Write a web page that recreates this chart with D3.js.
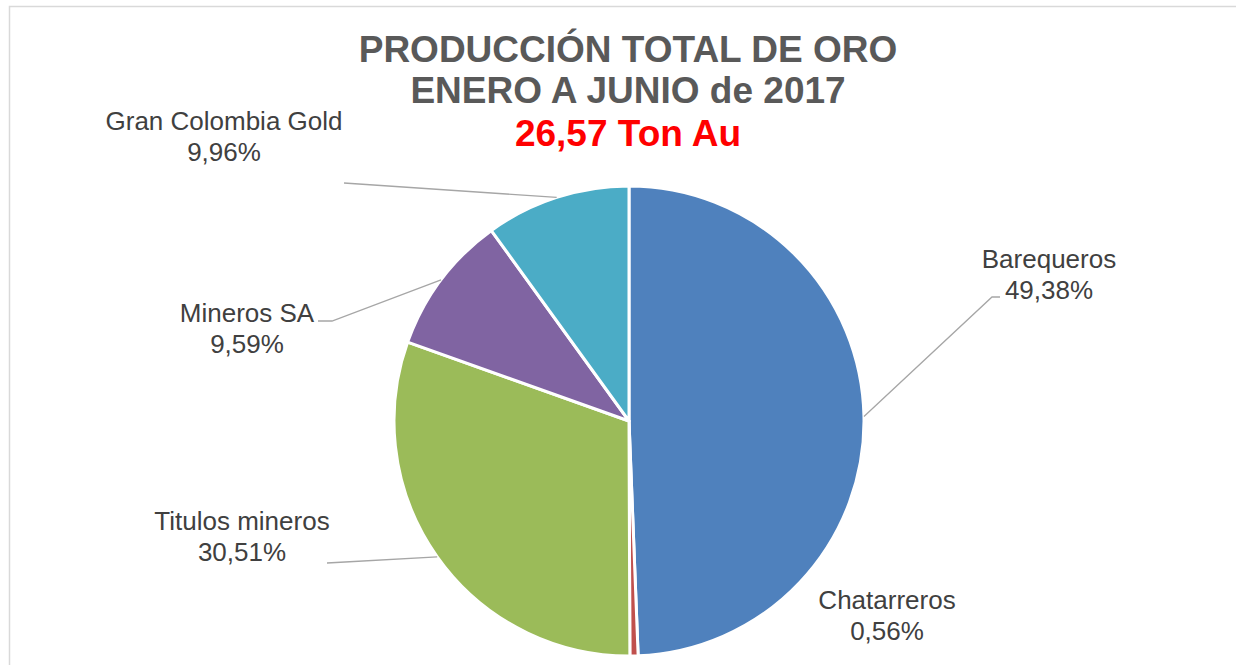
<!DOCTYPE html>
<html><head><meta charset="utf-8">
<script src="https://cdn.jsdelivr.net/npm/d3@7"></script>
<style>html,body{margin:0;padding:0;background:#fff;}svg{display:block;}</style>
</head><body>
<script>
const categories = ["Barequeros", "Chatarreros", "Titulos mineros", "Mineros SA", "Gran Colombia Gold"];
const values = [49.38, 0.56, 30.51, 9.59, 9.96];
const valueLabels = ["49,38%", "0,56%", "30,51%", "9,59%", "9,96%"];
const colors = ["#4f81bd", "#c0504d", "#9bbb59", "#8064a2", "#4bacc6"];
const titleLines = ["PRODUCCIÓN TOTAL DE ORO", "ENERO A JUNIO de 2017"];
const subtitle = "26,57 Ton Au";

// label layout (position of label block and leader line anchor)
const labelPos = [
  {x: 1049, y: 268, line: [[1000, 297], [992, 297]]},
  {x: 887, y: 609, line: null},
  {x: 242, y: 530, line: [[327, 563], [345, 562]]},
  {x: 247, y: 322, line: [[318, 321], [332, 321]]},
  {x: 224, y: 130, line: [[344, 183]]}
];

const W = 1236, H = 665;
const svg = d3.select("body").append("svg").attr("width", W).attr("height", H);
svg.append("rect").attr("x", 9.5).attr("y", 6.5).attr("width", 1300).attr("height", 700)
  .attr("fill", "#fff").attr("stroke", "#d9d9d9").attr("stroke-width", 1.5);

const cx = 629, cy = 421, R = 235;
const pie = d3.pie().sort(null).value(d => d)(values);
const arc = d3.arc().innerRadius(0).outerRadius(R);
const g = svg.append("g").attr("transform", `translate(${cx},${cy})`);
g.selectAll("path").data(pie).join("path")
  .attr("d", arc).attr("fill", (d, i) => colors[i])
  .attr("stroke", "#fff").attr("stroke-width", 3).attr("stroke-linejoin", "round");

// leader lines
const line = d3.line();
pie.forEach((d, i) => {
  const lp = labelPos[i];
  if (!lp.line) return;
  const mid = (d.startAngle + d.endAngle) / 2;
  const edge = [cx + R * Math.sin(mid), cy - R * Math.cos(mid)];
  svg.append("path").attr("d", line([...lp.line, edge]))
    .attr("fill", "none").attr("stroke", "#a6a6a6").attr("stroke-width", 1.3);
});

// labels
const ff = "'Liberation Sans', Arial, sans-serif";
categories.forEach((c, i) => {
  const lp = labelPos[i];
  const t = svg.append("text").attr("text-anchor", "middle").attr("font-family", ff)
    .attr("font-size", 26).attr("fill", "#404040");
  t.append("tspan").attr("x", lp.x).attr("y", lp.y).text(c);
  t.append("tspan").attr("x", lp.x).attr("y", lp.y + 31).text(valueLabels[i]);
});

// title
const tx = 628;
titleLines.forEach((s, i) => {
  svg.append("text").attr("x", tx).attr("y", [62, 103][i]).attr("text-anchor", "middle")
    .attr("font-family", ff).attr("font-weight", "bold").attr("font-size", 37)
    .attr("fill", "#595959").text(s);
});
svg.append("text").attr("x", tx).attr("y", 146).attr("text-anchor", "middle")
  .attr("font-family", ff).attr("font-weight", "bold").attr("font-size", 37)
  .attr("fill", "#ff0000").text(subtitle);
</script>
</body></html>
